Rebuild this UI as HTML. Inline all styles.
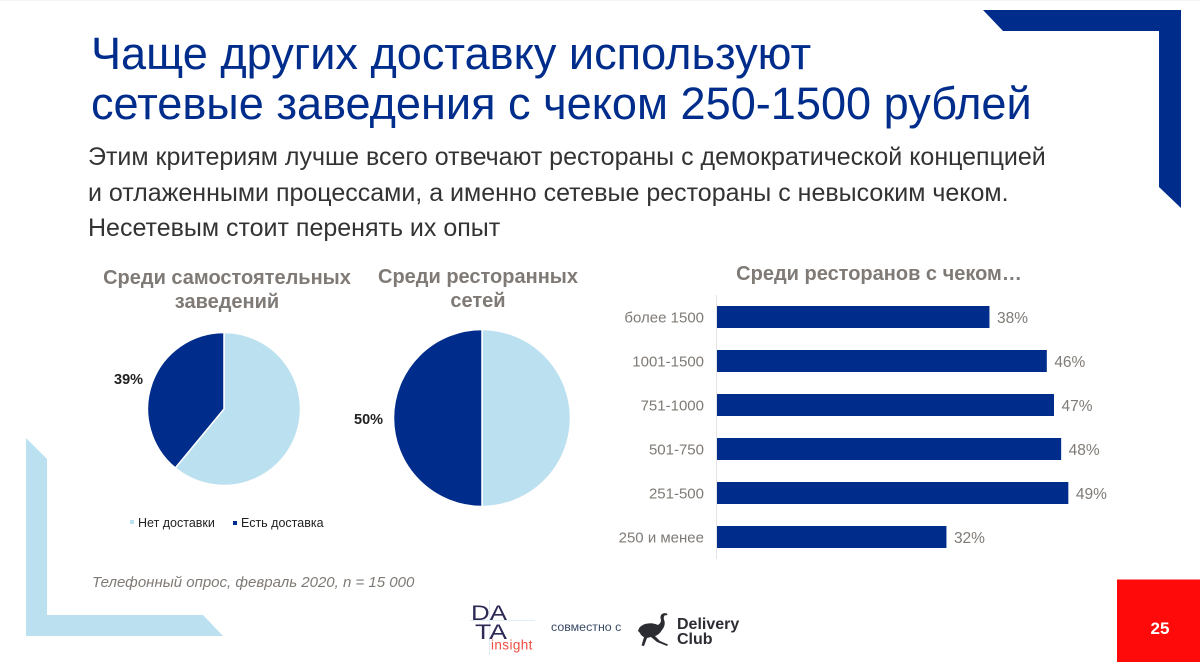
<!DOCTYPE html>
<html lang="ru">
<head>
<meta charset="utf-8">
<title>Доставка</title>
<style>
html,body{margin:0;padding:0;background:#fff;}
body{width:1200px;height:662px;overflow:hidden;font-family:"Liberation Sans","Noto Sans CJK SC",sans-serif;}
svg{display:block;}
text{font-family:"Liberation Sans","Noto Sans CJK SC",sans-serif;}
</style>
</head>
<body>
<svg id="slide" width="1200" height="662" viewBox="0 0 1200 662" xmlns="http://www.w3.org/2000/svg">
  <rect x="0" y="0" width="1200" height="1" fill="#f4f4f4"/>
  <polygon points="983,10 1181,10 1181,208 1159,187 1159,31 1003,31" fill="#002d8b"/>
  <polygon points="26,438 47,459 47,615 203,615 223,636 26,636" fill="#bbe0ef"/>

  <text x="91" y="69" font-size="45.1" fill="#002d8b">Чаще других доставку используют</text>
  <text x="91" y="119" font-size="45.1" fill="#002d8b">сетевые заведения с чеком 250-1500 рублей</text>

  <text x="88" y="165" font-size="25" fill="#333">Этим критериям лучше всего отвечают рестораны с демократической концепцией</text>
  <text x="88" y="201" font-size="25" fill="#333">и отлаженными процессами, а именно сетевые рестораны с невысоким чеком.</text>
  <text x="88" y="236" font-size="25" fill="#333">Несетевым стоит перенять их опыт</text>

  <g fill="#7f7a75" font-size="20" font-weight="bold" text-anchor="middle">
    <text x="227" y="284">Среди самостоятельных</text>
    <text x="227" y="308">заведений</text>
    <text x="478" y="283">Среди ресторанных</text>
    <text x="478" y="307">сетей</text>
    <text x="879" y="280">Среди ресторанов с чеком…</text>
  </g>

  <g id="pie-independent"></g>
  <g id="pie-chains"></g>

  <g font-size="12.5" fill="#222">
    <rect x="130" y="520" width="4" height="4" fill="#bbe0ef"/>
    <text x="138" y="527">Нет доставки</text>
    <rect x="233" y="521" width="4" height="4" fill="#002d8b"/>
    <text x="241" y="527">Есть доставка</text>
  </g>

  <line x1="716.5" y1="295" x2="716.5" y2="559" stroke="#e4e4e4" stroke-width="1"/>
  <g id="bars"></g>

  <text x="92" y="587" font-size="15" font-style="italic" fill="#7f7a75">Телефонный опрос, февраль 2020, n = 15 000</text>

  <g>
    <line x1="489.5" y1="600" x2="489.5" y2="655" stroke="#e4edf3"/>
    <line x1="470" y1="620.5" x2="535" y2="620.5" stroke="#e4edf3"/>
    <text x="471" y="620" font-size="21" fill="#2c2a55" textLength="36" lengthAdjust="spacingAndGlyphs">DA</text>
    <text x="475" y="639" font-size="21" fill="#2c2a55" textLength="32" lengthAdjust="spacingAndGlyphs">TA</text>
    <text x="491" y="649.5" font-size="13.5" letter-spacing="0.4" fill="#ee4d3f">insight</text>
  </g>
  <text x="551" y="631" font-size="12.4" fill="#3a4a66">совместно с</text>
  <g>
    <path fill="#2b2d33" d="M662,614 Q664,612.5 667,613.5 L667.5,615 L664.5,615.5 Q663,618 664.5,621 Q665.5,626 662,630 Q659,635 655,636 L660,641 L668,644.5 L667,646 L657,642 L651,637 L647,638 L644,646 L641.5,645.5 L644,637 Q641,636 640,633 L638,631 Q639,626 645,624 Q652,622 658,625 Q661,623 661,620 Q659.5,616 662,614 Z"/>
    <text x="677" y="629" font-size="16" font-weight="bold" fill="#2b2d33">Delivery</text>
    <text x="677" y="644" font-size="16" font-weight="bold" fill="#2b2d33">Club</text>
  </g>

  <rect x="1117" y="579.5" width="83" height="82.5" fill="#ff0a0a"/>
  <text x="1160" y="634" font-size="17" font-weight="bold" fill="#fff" text-anchor="middle">25</text>
</svg>

<script>
var barCategories = ['более 1500', '1001-1500', '751-1000', '501-750', '251-500', '250 и менее'];
var barValues = [38, 46, 47, 48, 49, 32];
var pieIndependentDelivery = 39;
var pieChainsDelivery = 50;

var NS = 'http://www.w3.org/2000/svg';
var NAVY = '#002d8b';
var LIGHT = '#bbe0ef';

function xScale(v) { return 717 + v * 7.17; }
function yBand(i) { return 306 + i * 44; }

function makeEl(tag, attrs, parent) {
  var el = document.createElementNS(NS, tag);
  for (var k in attrs) { el.setAttribute(k, attrs[k]); }
  parent.appendChild(el);
  return el;
}

function polar(cx, cy, r, pct) {
  var a = pct / 100 * 2 * Math.PI;
  return [cx + r * Math.sin(a), cy - r * Math.cos(a)];
}

function slicePath(cx, cy, r, from, to) {
  var p0 = polar(cx, cy, r, from);
  var p1 = polar(cx, cy, r, to);
  var large = (to - from) > 50 ? 1 : 0;
  return 'M' + cx + ',' + cy + ' L' + p0[0] + ',' + p0[1] + ' A' + r + ',' + r + ' 0 ' + large + ' 1 ' + p1[0] + ',' + p1[1] + ' Z';
}

function drawPie(groupId, cx, cy, r, delivery, labelX, labelY) {
  var g = document.getElementById(groupId);
  var noDelivery = makeEl('path', { d: slicePath(cx, cy, r, 0, 100 - delivery), fill: LIGHT, stroke: '#fff', 'stroke-width': 1.5 }, g);
  
  
  var hasDelivery = makeEl('path', { d: slicePath(cx, cy, r, 100 - delivery, 100), fill: NAVY, stroke: '#fff', 'stroke-width': 1.5 }, g);
  
  
  var label = makeEl('text', { x: labelX, y: labelY, 'font-size': 14.5, 'font-weight': 'bold', fill: '#222' }, g);
  
  
  label.textContent = delivery + '%';
}

drawPie('pie-independent', 224, 409, 76.5, pieIndependentDelivery, 114, 384);
drawPie('pie-chains', 482, 418, 88.5, pieChainsDelivery, 354, 424);

var barsGroup = document.getElementById('bars');
barValues.forEach(function (v, i) {
  var top = yBand(i);
  var bar = makeEl('rect', { x: xScale(0), y: top, width: xScale(v) - xScale(0), height: 22, fill: NAVY }, barsGroup);
  
  
  var cat = makeEl('text', { x: 704, y: top + 16.7, 'font-size': 15, fill: '#7f7a75', 'text-anchor': 'end' }, barsGroup);
  
  
  cat.textContent = barCategories[i];
  var val = makeEl('text', { x: xScale(v) + 7.5, y: top + 17, 'font-size': 15.5, fill: '#7f7a75' }, barsGroup);
  
  
  val.textContent = v + '%';
});
</script>
</body>
</html>
